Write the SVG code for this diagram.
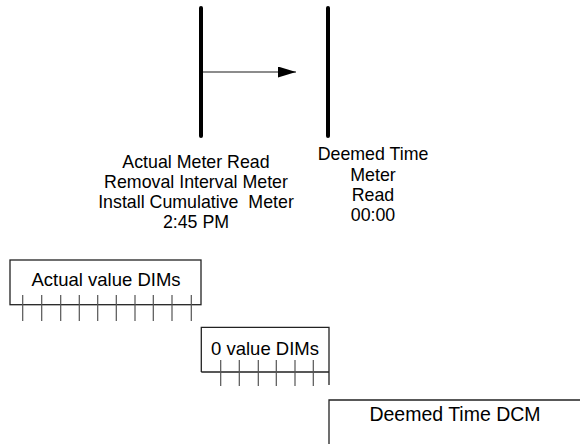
<svg xmlns="http://www.w3.org/2000/svg" width="582" height="444" viewBox="0 0 582 444">
<defs>
<style>
.lbl{font-family:"Liberation Sans",Arial,sans-serif;font-size:17.8px;fill:#000;text-anchor:middle;white-space:pre}
.bar{stroke:#000;stroke-width:4;stroke-linecap:round;fill:none}
.box{stroke:#222;stroke-width:1.3;fill:none}
.tick{stroke:#555;stroke-width:1.2;fill:none}
</style>
<marker id="ah" markerWidth="18" markerHeight="11" refX="18" refY="5.5" orient="auto" markerUnits="userSpaceOnUse">
<path d="M0,0 L18,5.5 L0,11 Z" fill="#000"/>
</marker>
</defs>
<rect width="582" height="444" fill="#fff"/>
<g id="actual-read">
<line class="bar" x1="201" y1="8" x2="201" y2="136"/>
<text class="lbl" x="196" y="168">Actual Meter Read</text>
<text class="lbl" x="196" y="188">Removal Interval Meter</text>
<text class="lbl" x="196" y="208">Install Cumulative  Meter</text>
<text class="lbl" x="196" y="228">2:45 PM</text>
</g>
<g id="deemed-read">
<line class="bar" x1="328" y1="8" x2="328" y2="136"/>
<text class="lbl" x="373" y="160">Deemed Time</text>
<text class="lbl" x="373" y="180.5">Meter</text>
<text class="lbl" x="373" y="200.5">Read</text>
<text class="lbl" x="373" y="220.5">00:00</text>
</g>
<g id="connectors">
<line x1="203" y1="72" x2="296" y2="72" stroke="#666" stroke-width="1.5" marker-end="url(#ah)"/>
</g>
<g id="actual-dims">
<rect class="box" x="10" y="260" width="191" height="44.7"/>
<path class="tick" d="M22.7,295V321M41.7,295V321M60.7,295V321M79.3,295V321M97.7,295V321M116.3,295V321M135,295V321M153.3,295V321M172,295V321M191.3,295V321"/>
<text class="lbl" x="106" y="286" style="font-size:18.5px">Actual value DIMs</text>
</g>
<g id="zero-dims">
<path class="box" d="M201.3,372V327.3H329V385M201.3,372H329"/>
<path class="tick" d="M220.7,360V386M239.3,360V386M258.3,360V386M276.3,360V386M295,360V386M313.3,360V386"/>
<text class="lbl" x="265" y="355" style="font-size:18.5px">0 value DIMs</text>
</g>
<g id="deemed-dcm">
<path class="box" d="M329,444V400H580"/>
<text class="lbl" x="455" y="421" style="font-size:19.5px">Deemed Time DCM</text>
</g>
</svg>
